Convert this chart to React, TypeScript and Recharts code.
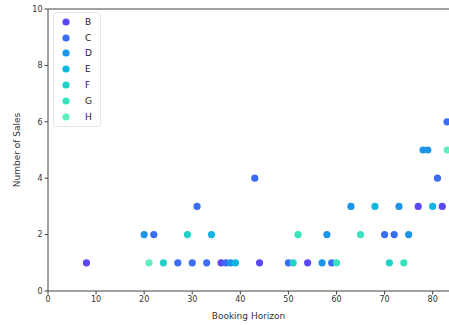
import React from 'react';
import {
  ScatterChart,
  Scatter,
  XAxis,
  YAxis,
  ReferenceLine,
} from 'recharts';

const xTicks = [0, 10, 20, 30, 40, 50, 60, 70, 80];
const yTicks = [0, 2, 4, 6, 8, 10];

const seriesB = [
  { x: 8, y: 1 }, { x: 36, y: 1 }, { x: 44, y: 1 }, { x: 54, y: 1 },
  { x: 77, y: 3 }, { x: 82, y: 3 },
];
const seriesC = [
  { x: 27, y: 1 }, { x: 30, y: 1 }, { x: 33, y: 1 }, { x: 37, y: 1 },
  { x: 50, y: 1 }, { x: 59, y: 1 }, { x: 22, y: 2 }, { x: 70, y: 2 },
  { x: 72, y: 2 }, { x: 31, y: 3 }, { x: 43, y: 4 }, { x: 81, y: 4 },
  { x: 83, y: 6 },
];
const seriesD = [
  { x: 38, y: 1 }, { x: 57, y: 1 }, { x: 20, y: 2 }, { x: 58, y: 2 },
  { x: 75, y: 2 }, { x: 63, y: 3 }, { x: 73, y: 3 }, { x: 78, y: 5 },
  { x: 79, y: 5 },
];
const seriesE = [
  { x: 39, y: 1 }, { x: 34, y: 2 }, { x: 68, y: 3 }, { x: 80, y: 3 },
];
const seriesF = [
  { x: 24, y: 1 }, { x: 51, y: 1 }, { x: 71, y: 1 }, { x: 29, y: 2 },
];
const seriesG = [
  { x: 60, y: 1 }, { x: 74, y: 1 }, { x: 52, y: 2 }, { x: 65, y: 2 },
];
const seriesH = [
  { x: 21, y: 1 }, { x: 83, y: 5 },
];

const series = [
  { name: 'B', data: seriesB, color: '#5a48f2' },
  { name: 'C', data: seriesC, color: '#3a6cf5' },
  { name: 'D', data: seriesD, color: '#1c94e8' },
  { name: 'E', data: seriesE, color: '#12b6e0' },
  { name: 'F', data: seriesF, color: '#22d2c8' },
  { name: 'G', data: seriesG, color: '#38e2bc' },
  { name: 'H', data: seriesH, color: '#62eebe' },
];

const font = '"DejaVu Sans", sans-serif';
const axisColor = '#444';

const Dot = (props: any) => {
  const { cx, cy, fill } = props;
  return <circle cx={cx} cy={cy} r={3.6} fill={fill} />;
};

// legend drawn as an overlay so it doesn't eat plot space
const LegendBox = () => (
  <div
    style={{
      position: 'absolute',
      left: 53,
      top: 12,
      border: '1px solid #e6e6e6',
      borderRadius: 3,
      padding: '1px 8px 1px 7px',
      background: 'rgba(255,255,255,0.8)',
      fontFamily: font,
      fontSize: 9,
      color: '#222',
    }}
  >
    {series.map((s) => (
      <div key={s.name} style={{ display: 'flex', alignItems: 'center', height: 15.8 }}>
        <svg width={10} height={10} style={{ marginRight: 14 }}>
          <circle cx={5} cy={5} r={3.6} fill={s.color} />
        </svg>
        <span>{s.name}</span>
      </div>
    ))}
  </div>
);

export default function App() {
  return (
    <div style={{ position: 'fixed', left: 0, top: 0, width: 449, height: 325, background: '#fff', overflow: 'hidden' }}>
      <ScatterChart width={449} height={325} margin={{ top: 9, right: 0, bottom: 0, left: 0 }}>
        <XAxis
          type="number"
          dataKey="x"
          domain={[0, 83.4]}
          ticks={xTicks}
          allowDataOverflow
          height={34}
          stroke={axisColor}
          tickSize={3.5}
          tick={{ fill: '#333', fontSize: 8, fontFamily: font }}
          label={{ value: 'Booking Horizon', position: 'insideBottom', offset: 6, fill: '#333', fontSize: 9, fontFamily: font }}
        />
        <YAxis
          type="number"
          dataKey="y"
          domain={[0, 10]}
          ticks={yTicks}
          width={48}
          stroke={axisColor}
          tickSize={3.5}
          tick={{ fill: '#333', fontSize: 8, fontFamily: font }}
          label={{ value: 'Number of Sales', angle: -90, position: 'insideLeft', offset: 17, fill: '#333', fontSize: 9, fontFamily: font, style: { textAnchor: 'middle' } }}
        />
        <ReferenceLine y={10} stroke={axisColor} strokeWidth={1} />
        {series.map((s) => (
          <Scatter
            key={s.name}
            name={s.name}
            data={s.data}
            fill={s.color}
            shape={<Dot />}
            isAnimationActive={false}
          />
        ))}
      </ScatterChart>
      <LegendBox />
    </div>
  );
}
